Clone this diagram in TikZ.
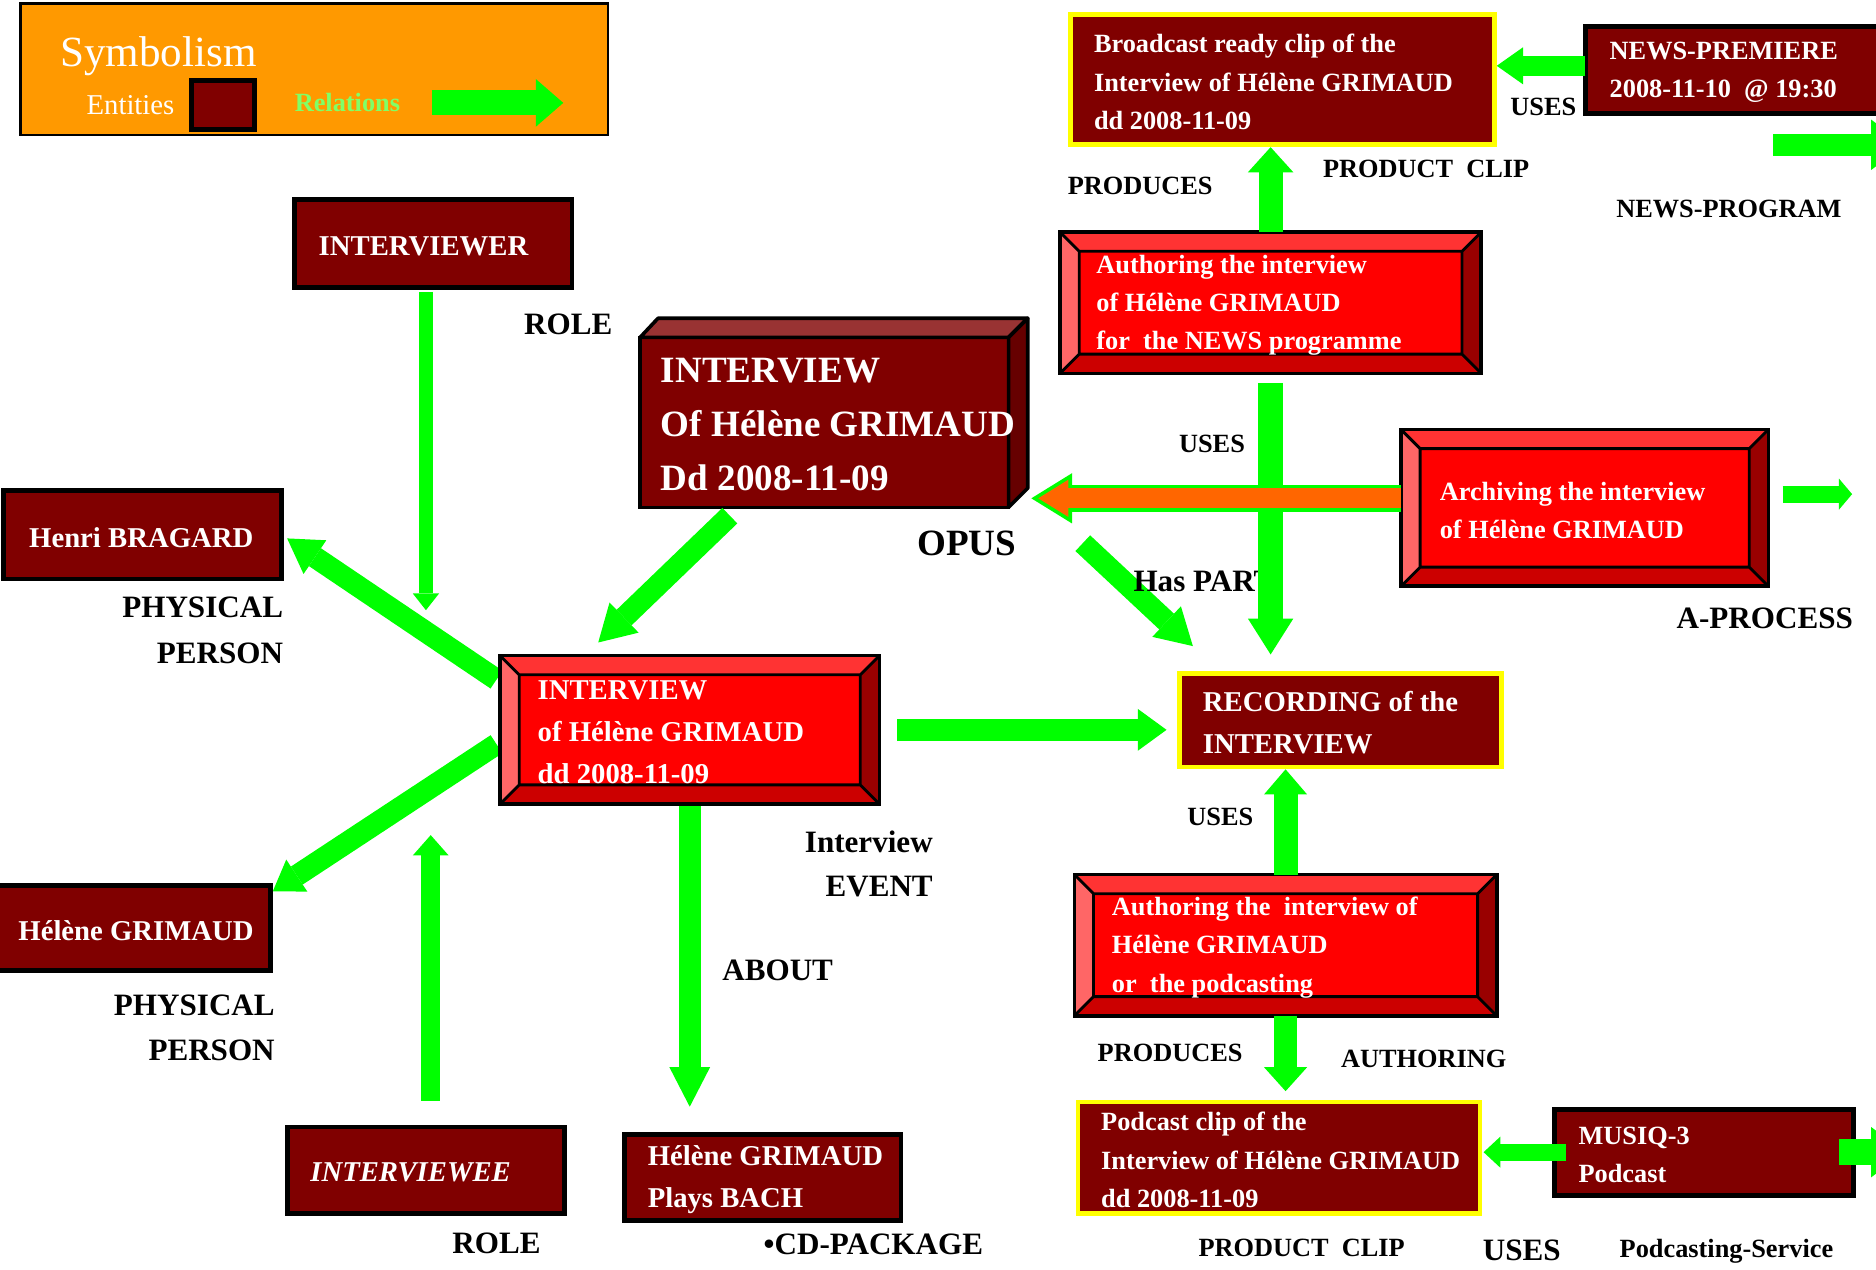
\documentclass[tikz,border=0pt]{standalone}
\usepackage{fontspec}
\setmainfont{Liberation Serif}
\usetikzlibrary{arrows.meta}

\definecolor{boxred}{HTML}{800000}
\definecolor{procred}{HTML}{FF0000}
\definecolor{bevtop}{HTML}{FF3333}
\definecolor{bevleft}{HTML}{FF6666}
\definecolor{bevbottom}{HTML}{CC0000}
\definecolor{bevright}{HTML}{990000}
\definecolor{opustop}{HTML}{993333}
\definecolor{opusside}{HTML}{660000}
\definecolor{relgreen}{HTML}{00FF00}
\definecolor{relnote}{HTML}{80FF66}
\definecolor{legendorange}{HTML}{FF9900}
\definecolor{archorange}{HTML}{FF6600}
\definecolor{clipyellow}{HTML}{FFFF00}

\pgfdeclarelayer{back}
\pgfdeclarelayer{under}
\pgfsetlayers{back,under,main}

\tikzset{
  arrowhead/.style 2 args={-{Triangle[width=#1,length=#2,line width=0pt]}},
  rel/.style={draw=relgreen, line width=9pt, arrowhead={18pt}{12pt}},
  entity/.style={draw=black, line width=2pt, fill=boxred, anchor=north west,
    inner sep=0pt, outer sep=0pt},
  clipbox/.style={entity, draw=clipyellow},
  bevelbox/.style={draw=black, line width=1.5pt, fill=procred, anchor=north west,
    inner sep=0pt, outer sep=0pt,
    path picture={
      \coordinate (pnw) at (path picture bounding box.north west);
      \coordinate (pne) at (path picture bounding box.north east);
      \coordinate (psw) at (path picture bounding box.south west);
      \coordinate (pse) at (path picture bounding box.south east);
      \coordinate (inw) at ([shift={(8pt,-8pt)}]pnw);
      \coordinate (ine) at ([shift={(-8pt,-8pt)}]pne);
      \coordinate (isw) at ([shift={(8pt,8pt)}]psw);
      \coordinate (ise) at ([shift={(-8pt,8pt)}]pse);
      \fill[bevtop] (pnw) -- (pne) -- (ine) -- (inw) -- cycle;
      \fill[bevleft] (pnw) -- (inw) -- (isw) -- (psw) -- cycle;
      \fill[bevbottom] (psw) -- (isw) -- (ise) -- (pse) -- cycle;
      \fill[bevright] (pne) -- (pse) -- (ise) -- (ine) -- cycle;
      \draw[black, line width=1.2pt] (inw) rectangle (ise)
        (pnw) -- (inw) (pne) -- (ine) (psw) -- (isw) (pse) -- (ise);
    }},
  intext/.style={anchor=west, align=left, text=white, inner sep=0pt, yshift=-1pt},
  fsmall/.style={font=\fontsize{11}{16}\selectfont\bfseries},
  fmid/.style={font=\fontsize{12}{17.5}\selectfont\bfseries},
  flarge/.style={font=\fontsize{15.5}{22.5}\selectfont\bfseries},
  lbl/.style={inner sep=0pt, text=black, font=\fontsize{11}{13}\selectfont\bfseries},
  lblbig/.style={inner sep=0pt, text=black, font=\fontsize{13}{19}\selectfont\bfseries}
}

\begin{document}
\begin{tikzpicture}[x=0.5pt, y=-0.5pt]
  \begin{pgfonlayer}{back}
    \fill[white] (0,0) rectangle (1568,1061);
  \end{pgfonlayer}
  \useasboundingbox (0,0) rectangle (1568,1061);
  \clip (0,0) rectangle (1568,1061);

  % legend
  \node[draw=black, line width=1pt, fill=legendorange, anchor=north west, inner sep=0pt,
    outer sep=0pt, minimum width=245.5pt, minimum height=55pt] (legend) at (17,3) {};
  \node[anchor=west, inner sep=0pt, text=white, font=\fontsize{18}{20}\selectfont] (symb) at (50,47) {Symbolism};
  \node[anchor=west, inner sep=0pt, text=white, font=\fontsize{12}{14}\selectfont] (ent) at (72,88) {Entities};
  \node[entity, minimum width=26.5pt, minimum height=20.5pt] (lsq) at (160,67) {};
  \node[anchor=west, inner sep=0pt, text=relnote, font=\fontsize{11}{13}\selectfont\bfseries] (relkey) at (246,86) {Relations};
  \draw[rel, line width=10.5pt, arrowhead={20pt}{11.5pt}] ([xshift=13pt]relkey.east) -- ++(55pt,0pt);

  % entities
  \node[clipbox, minimum width=177pt, minimum height=54.5pt] (bcast) at (895,12) {};
  \node[intext, fsmall] (bcast-t) at ([xshift=9.5pt]bcast.west) {Broadcast ready clip of the\\Interview of Hélène GRIMAUD\\dd 2008-11-09};
  \node[entity, minimum width=140pt, minimum height=36.5pt] (news) at (1325,22) {};
  \node[intext, fsmall] (news-t) at ([xshift=10pt]news.west) {NEWS-PREMIERE\\2008-11-10\ \ @ 19:30};
  \node[bevelbox, minimum width=176pt, minimum height=59pt] (authnews) at (886,194) {};
  \node[intext, fsmall] (authnews-t) at ([xshift=15pt]authnews.west) {Authoring the interview\\of Hélène GRIMAUD\\for\ \ the NEWS programme};
  \node[bevelbox, minimum width=153.5pt, minimum height=65.5pt] (arch) at (1171,359) {};
  \node[intext, fsmall] (arch-t) at ([xshift=16pt]arch.west) {Archiving the interview\\of Hélène GRIMAUD};

  \node[entity, line width=1.5pt, minimum width=154pt, minimum height=71pt] (opus) at (535,282) {};
  \filldraw[fill=opustop, draw=black, line width=1.5pt, line join=round] (opus.north west) -- ++(7.5pt,8pt)
    -- ([shift={(8pt,8pt)}]opus.north east) -- (opus.north east) -- cycle;
  \filldraw[fill=opusside, draw=black, line width=1.5pt, line join=round] (opus.north east) -- ++(8pt,8pt)
    -- ([shift={(8pt,8pt)}]opus.south east) -- (opus.south east) -- cycle;
  \node[intext, flarge] (opus-t) at ([xshift=8.5pt]opus.west) {INTERVIEW\\Of Hélène GRIMAUD\\Dd 2008-11-09};

  \node[bevelbox, minimum width=158.5pt, minimum height=62pt] (event) at (418,548) {};
  \node[intext, fmid] (event-t) at ([xshift=15.5pt]event.west) {INTERVIEW\\of Hélène GRIMAUD\\dd 2008-11-09};
  \node[clipbox, minimum width=134.5pt, minimum height=39pt] (rec) at (986,563) {};
  \node[intext, fmid] (rec-t) at ([xshift=9.5pt]rec.west) {RECORDING of the\\INTERVIEW};
  \node[entity, minimum width=115.5pt, minimum height=36pt] (cd) at (522,948) {};
  \node[intext, fmid] (cd-t) at ([xshift=9.5pt]cd.west) {Hélène GRIMAUD\\Plays BACH};

  \node[entity, minimum width=116pt, minimum height=36.5pt] (iver) at (246,167) {};
  \node[intext, fmid] (iver-t) at ([xshift=10pt]iver.west) {INTERVIEWER};
  \node[entity, minimum width=116pt, minimum height=37pt] (henri) at (3,410) {};
  \node[intext, fmid] (henri-t) at ([xshift=10.5pt]henri.west) {Henri BRAGARD};
  \node[entity, minimum width=114pt, minimum height=35.5pt] (helene) at (-2,740) {};
  \node[intext, fmid] (helene-t) at ([xshift=8.5pt]helene.west) {Hélène GRIMAUD};
  \node[entity, minimum width=116pt, minimum height=36pt] (ivee) at (240,942) {};
  \node[intext, fmid, font=\fontsize{12}{17.5}\selectfont\bfseries\itshape] (ivee-t) at ([xshift=9.5pt]ivee.west) {INTERVIEWEE};

  \node[bevelbox, minimum width=176.5pt, minimum height=59pt] (authpod) at (898,731) {};
  \node[intext, fsmall] (authpod-t) at ([xshift=15.5pt]authpod.west) {Authoring the\ \ interview of\\Hélène GRIMAUD\\or\ \ the podcasting};
  \node[clipbox, minimum width=168pt, minimum height=46.5pt] (pod) at (901,921) {};
  \node[intext, fsmall] (pod-t) at ([xshift=9.5pt]pod.west) {Podcast clip of the\\Interview of Hélène GRIMAUD\\dd 2008-11-09};
  \node[entity, minimum width=125pt, minimum height=36pt] (musiq) at (1299,927) {};
  \node[intext, fsmall] (musiq-t) at ([xshift=10pt]musiq.west) {MUSIQ-3\\Podcast};

  % relation names
  \foreach \n/\x/\y/\t in {prodtop/953/155/PRODUCES, cliptop/1192/141/{PRODUCT\ \ CLIP},
      usesnews/1290/89/USES, newsprog/1445/175/NEWS-PROGRAM, usesrec/1013/371/USES,
      usespod/1020/683/USES, prodpod/978/880/PRODUCES, authoring/1190/885/AUTHORING,
      clippod/1088/1043/{PRODUCT\ \ CLIP}, podserv/1443/1046/Podcasting-Service}
    \node[lbl] (\n) at (\x,\y) {\t};
  \foreach \n/\x/\y/\t in {roleiver/475/271/ROLE, aproc/1475/517/A-PROCESS, about/650/811/ABOUT,
      roleivee/415/1039/ROLE, cdpack/730/1040/•CD-PACKAGE, usesmusiq/1272/1045/USES}
    \node[lblbig] (\n) at (\x,\y) {\t};
  \node[lblbig, font=\fontsize{15.5}{18}\selectfont\bfseries] (opuslbl) at (808,454) {OPUS};
  \node[lblbig, align=right, anchor=east] (physA) at (237,527) {PHYSICAL\\PERSON};
  \node[lblbig, align=right, anchor=east] (physB) at (230,859) {PHYSICAL\\PERSON};
  \node[lblbig, align=right, anchor=east, font=\fontsize{13}{18.5}\selectfont\bfseries] (evlbl) at (780,722) {Interview\\EVENT};

  % relations
  \begin{pgfonlayer}{under}
    \draw[rel, arrowhead={17pt}{14pt}] ([shift={(-1.5pt,-10pt)}]event.north west) -- ([shift={(2.5pt,-1.5pt)}]henri.east);
    \draw[rel, arrowhead={16pt}{12pt}] ([shift={(-1.5pt,-6pt)}]event.west) -- ([shift={(1pt,-2.5pt)}]helene.north east);
  \end{pgfonlayer}
  \draw[rel, line width=6pt, arrowhead={11pt}{7pt}] ([shift={(-3pt,-2pt)}]iver.south) -- ++(0pt,-133pt);
  \draw[rel, line width=8pt, arrowhead={15pt}{8.5pt}] ([shift={(2pt,11pt)}]ivee.north) -- ++(0pt,111pt);
  \draw[rel, arrowhead={17.5pt}{15pt}] ([shift={(37.5pt,-3.5pt)}]opus.south west) -- ([shift={(41pt,5.5pt)}]event.north west);
  \draw[rel, arrowhead={17.5pt}{15pt}] ([shift={(31pt,-15pt)}]opus.south east) -- ([shift={(5.5pt,11.5pt)}]rec.north west);
  \node[lblbig, anchor=west] (haspart) at (947,486) {Has PART};
  \draw[rel, arrowhead={17.5pt}{12pt}] ([xshift=7.5pt]event.east) -- ([shift={(-5.5pt,-4pt)}]rec.west);
  \draw[rel, arrowhead={17pt}{16.5pt}, shorten <=1pt, shorten >=11.5pt] (event.south) -- (event.south |- cd.north);
  \draw[rel, line width=10.5pt, arrowhead={19pt}{15pt}, shorten <=4pt, shorten >=8pt] (authnews.south) -- (authnews.south |- rec.north);
  \draw[rel, line width=10pt, arrowhead={19pt}{10.5pt}, shorten >=1pt] (authnews.north) -- (authnews.north |- bcast.south);
  \draw[rel, line width=8.5pt, arrowhead={15.5pt}{11pt}] ([yshift=1.75pt]news.west) -- ++(-37pt,0pt);
  \draw[rel, arrowhead={21pt}{14pt}] ([shift={(78.5pt,-13pt)}]news.south west) -- ++(55pt,0pt);
  % archiving arrow, orange with green rim
  \draw[rel, line width=11.5pt, arrowhead={21pt}{17pt}] ([yshift=4pt]arch.west) -- ++(-154.5pt,0pt);
  \draw[draw=archorange, line width=8.5pt, arrowhead={15.6pt}{12.6pt}, shorten >=2.9pt] ([yshift=4pt]arch.west) -- ++(-154.5pt,0pt);
  \draw[rel, line width=7pt, arrowhead={13pt}{5.5pt}] ([shift={(6pt,5.75pt)}]arch.east) -- ++(29pt,0pt);
  \draw[rel, line width=10pt, arrowhead={18pt}{10.5pt}, shorten >=1pt] (authpod.north) -- (authpod.north |- rec.south);
  \draw[rel, line width=9.5pt, arrowhead={18pt}{10pt}, shorten >=4.5pt] (authpod.south) -- (authpod.south |- pod.north);
  \draw[rel, line width=7pt, arrowhead={13pt}{7pt}, shorten >=1.5pt] ([xshift=5pt]musiq.west) -- (musiq.west -| pod.east);
  \draw[rel, line width=11pt, arrowhead={21pt}{14pt}] ([xshift=-6pt]musiq.east) -- ++(27.5pt,0pt);
\end{tikzpicture}
\end{document}
